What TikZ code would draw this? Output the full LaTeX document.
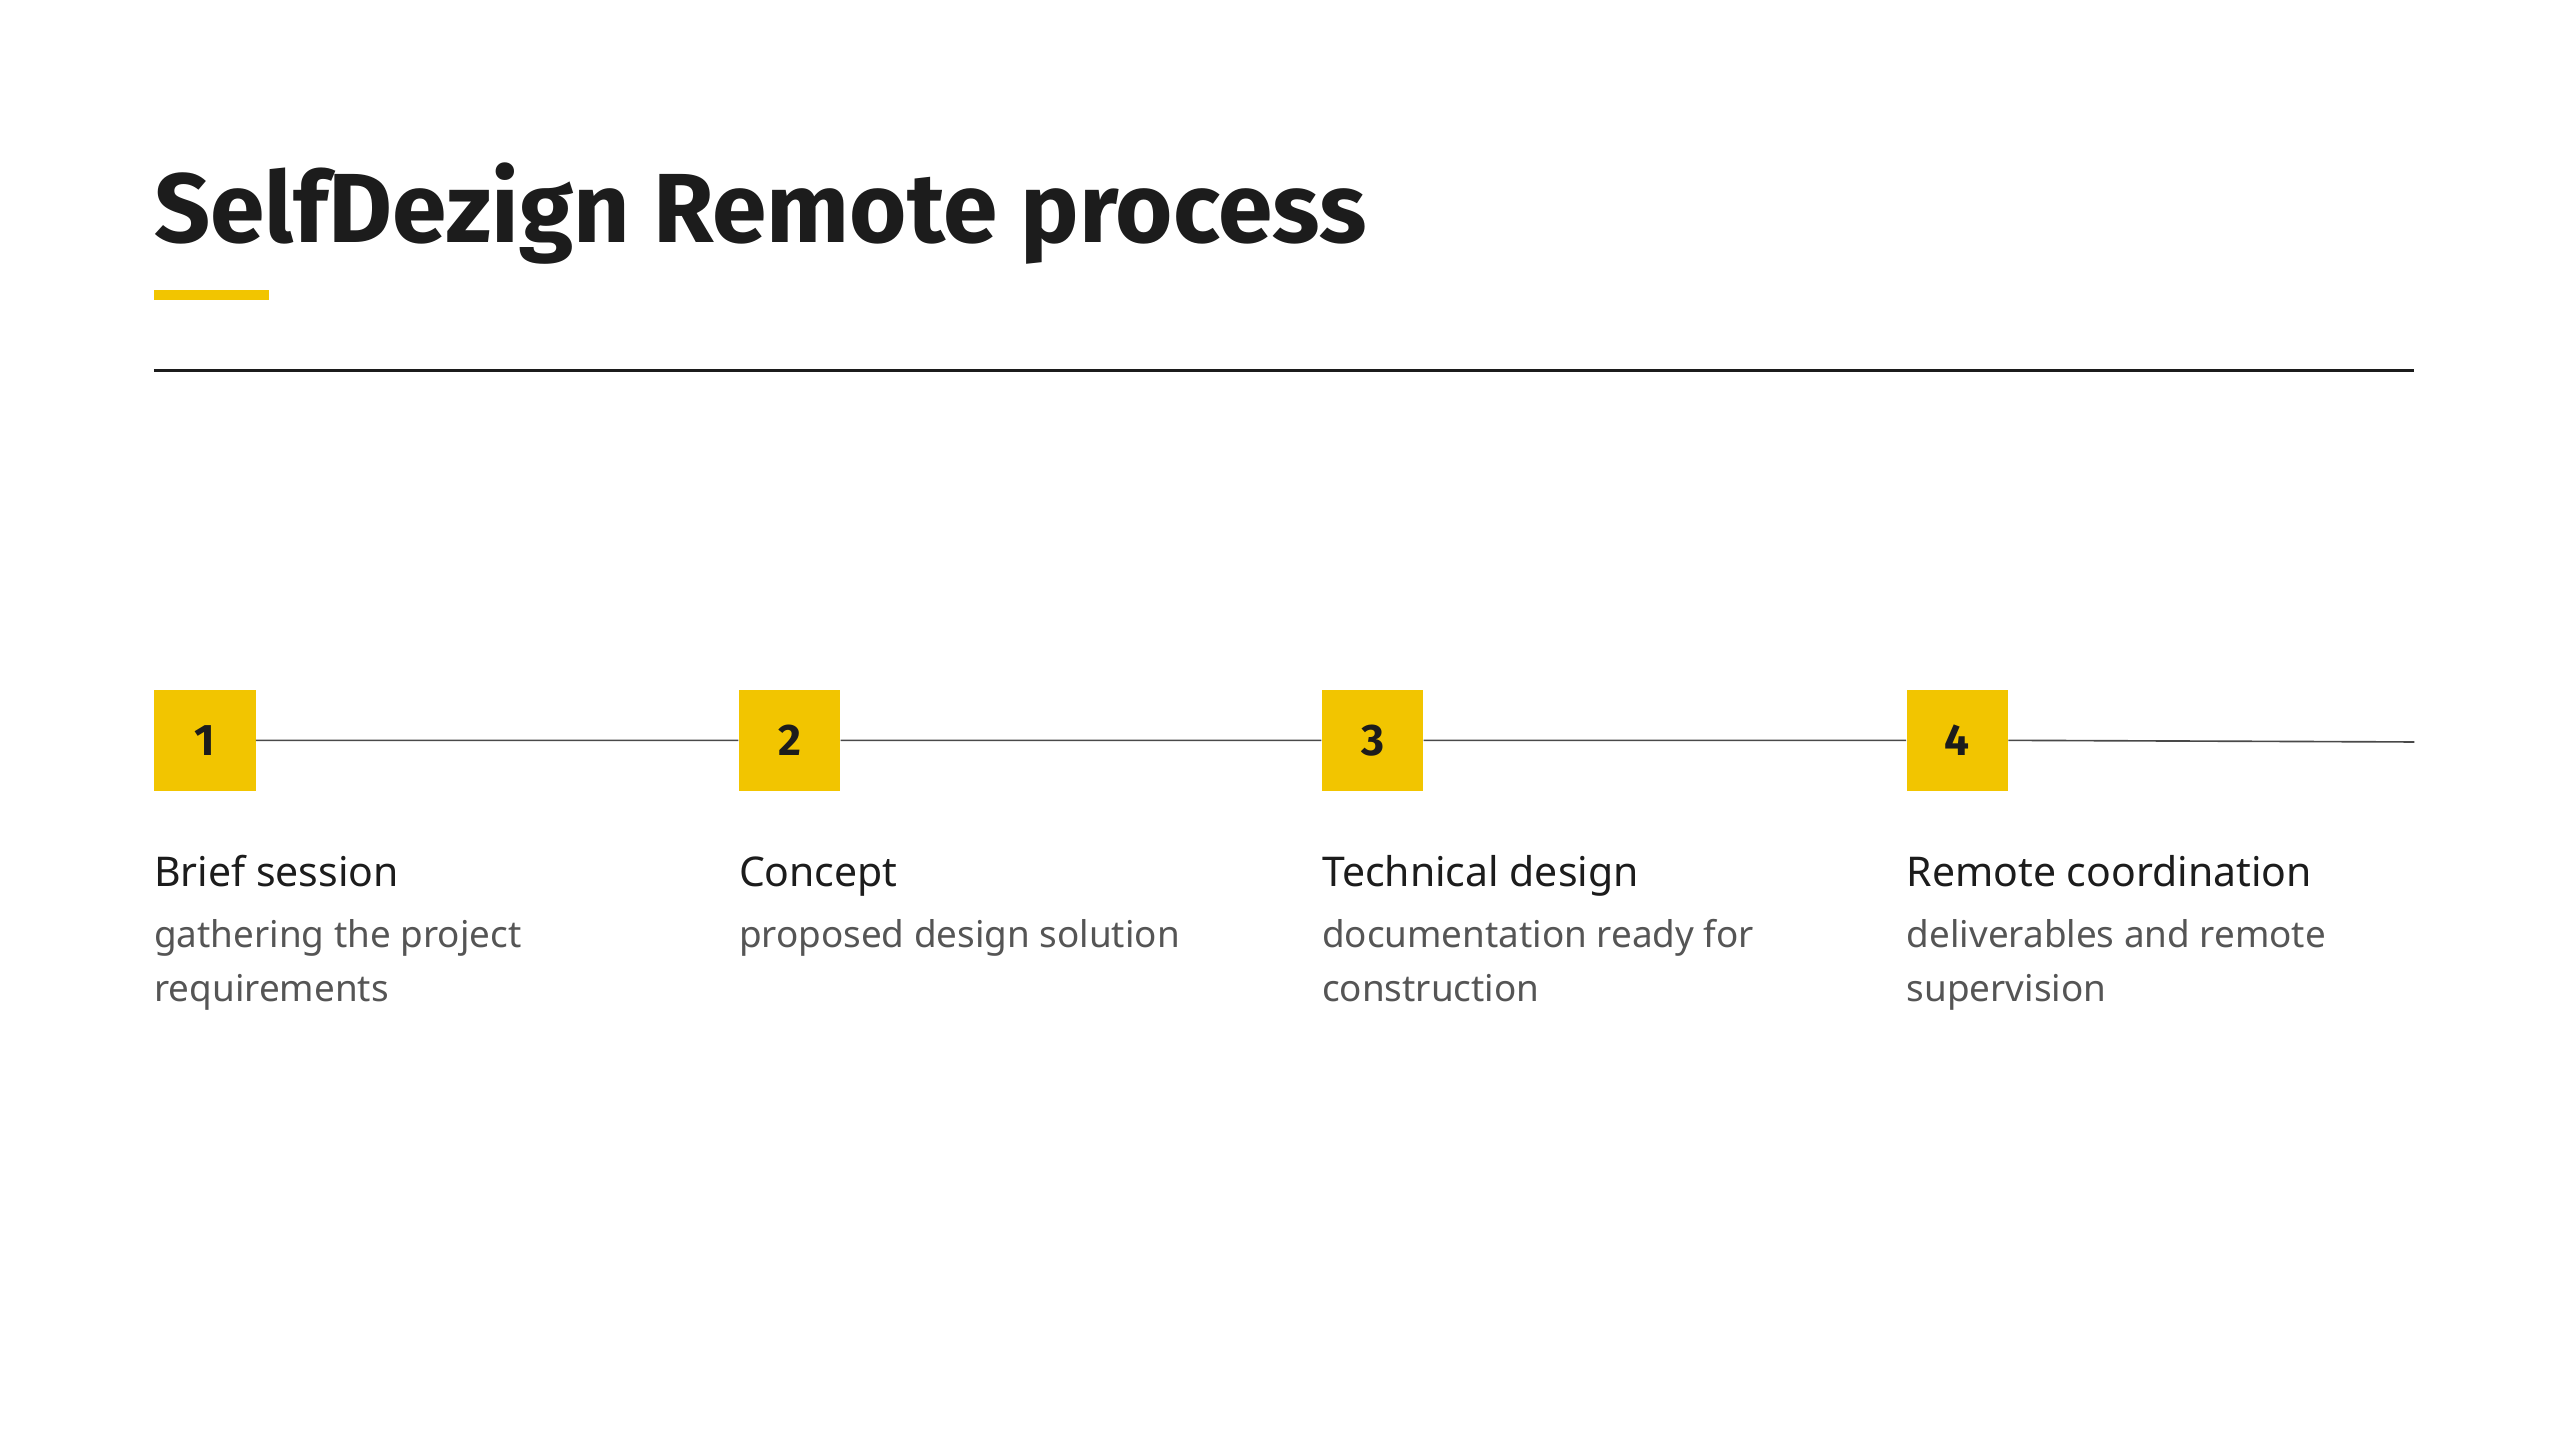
\documentclass[tikz,border=0pt]{standalone}
\usepackage{fontspec}
\setmainfont{Noto Sans}
\newfontfamily\titlefont{Fira Sans}
\definecolor{sdyellow}{HTML}{F2C500}
\definecolor{sdtext}{HTML}{1C1C1C}
\definecolor{sdgray}{HTML}{555555}
\begin{document}
\begin{tikzpicture}[x=1pt,y=-1pt,
  sq/.style={fill=sdyellow,draw=none,minimum size=62pt,inner sep=0pt,font=\titlefont\fontsize{27}{30}\selectfont\bfseries,text=sdtext},
  head/.style={anchor=base west,inner sep=0pt,font=\fontsize{25}{30}\selectfont\bfseries,text=sdtext},
  desc/.style={anchor=north west,inner sep=0pt,font=\fontsize{22.5}{33}\selectfont,text=sdgray,align=left}]
\useasboundingbox[fill=white] (0,0) rectangle (1563,879);
\node[anchor=base west,inner sep=0pt,font=\titlefont\fontsize{60}{70}\selectfont\bfseries,text=sdtext] (title) at (94,148) {SelfDezign Remote process};
\fill[sdyellow] (94,177) rectangle (164,183);
\coordinate (r1) at (94,226); \coordinate (r2) at (1474,226);
\draw[line width=2pt,sdtext] (r1) -- (r2);
\coordinate (tend) at (1474,453);
\node[sq] (s1) at (125,452) {1};
\node[sq] (s2) at (482,452) {2};
\node[sq] (s3) at (838,452) {3};
\node[sq] (s4) at (1195,452) {4};
\draw[line width=1pt,sdtext!80] (s1.east) -- (s2.west) (s2.east) -- (s3.west) (s3.east) -- (s4.west) (s4.east) -- (tend);
\node[head] (h1) at (94,541) {Brief session};
\node[head] (h2) at (451,541) {Concept};
\node[head] (h3) at (807,541) {Technical design};
\node[head] (h4) at (1164,541) {Remote coordination};
\node[desc] (d1) at (94,561) {gathering the project\\requirements};
\node[desc] (d2) at (451,561) {proposed design solution};
\node[desc] (d3) at (807,561) {documentation ready for\\construction};
\node[desc] (d4) at (1164,561) {deliverables and remote\\supervision};
\end{tikzpicture}
\end{document}
